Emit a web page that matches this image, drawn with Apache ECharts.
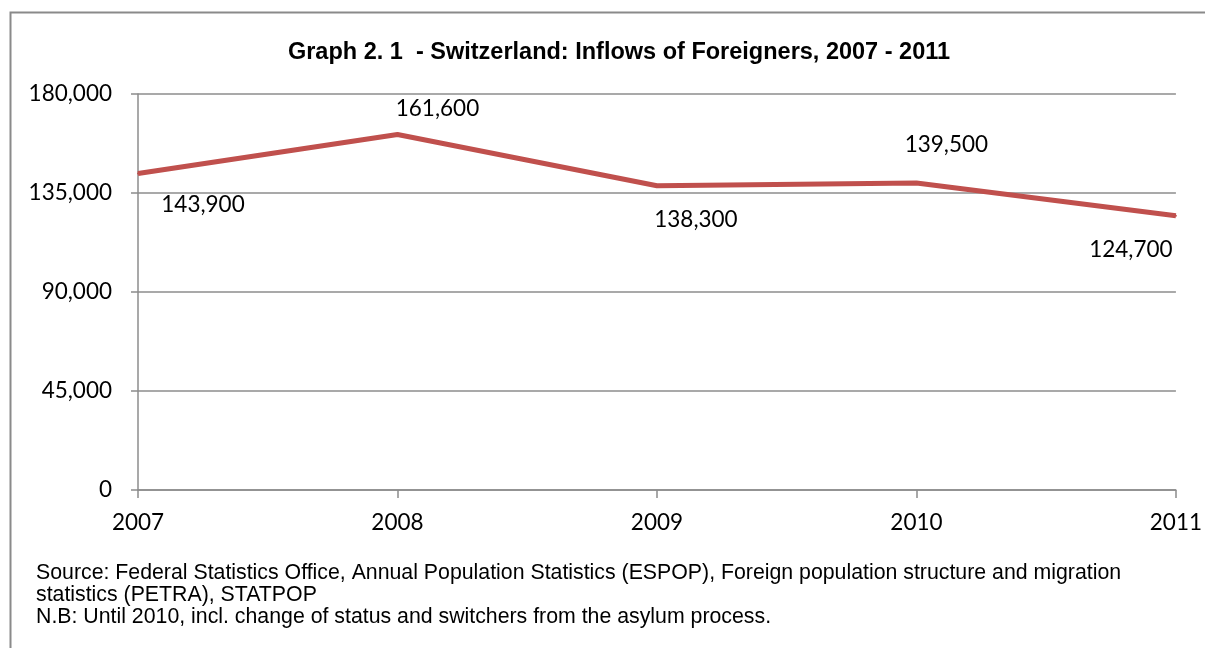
<!DOCTYPE html>
<html>
<head>
<meta charset="utf-8">
<script src="https://cdn.jsdelivr.net/npm/echarts@6/dist/echarts.min.js"></script>
<style>
  html, body { margin: 0; padding: 0; background: #fff; }
  #chart { width: 1205px; height: 648px; }
</style>
</head>
<body>
<div id="chart"></div>
<script>
// Inflows of foreigners into Switzerland by year
const years = ['2007', '2008', '2009', '2010', '2011'];
const inflows = [143900, 161600, 138300, 139500, 124700];
// Value-label placement per point (offset from point, in px)
const labelOffsets = [[65, 31], [40, -26], [39, 34], [30, -38], [-45, 34]];

const titleText = 'Graph 2. 1  - Switzerland: Inflows of Foreigners, 2007 - 2011';
const noteLines = [
  'Source: Federal Statistics Office, Annual Population Statistics (ESPOP), Foreign population structure and migration',
  'statistics (PETRA), STATPOP',
  'N.B: Until 2010, incl. change of status and switchers from the asylum process.'
];

const fmt = v => Number(v).toLocaleString('en-US');
const axisGray = '#8c8c8c';
const tickFont = 'Lato, "Open Sans", sans-serif';
const tickSize = 22.5;

const chart = echarts.init(document.getElementById('chart'), null, { renderer: 'canvas' });

chart.setOption({
  animation: false,
  backgroundColor: '#ffffff',
  title: {
    text: titleText,
    left: 614,
    textAlign: 'center',
    top: 36,
    textStyle: {
      fontFamily: '"Liberation Sans", Arial, sans-serif',
      fontWeight: 'bold',
      fontSize: 23.5,
      color: '#000'
    }
  },
  graphic: [
    {
      type: 'polyline',
      shape: { points: [[10.5, 700], [10.5, 12.5], [1300, 12.5]] },
      style: { stroke: '#8a8a8a', lineWidth: 2, fill: null }
    },
    {
      type: 'text',
      left: 36,
      top: 562,
      style: {
        text: noteLines.join('\n'),
        font: '21.3px "Liberation Sans", Arial, sans-serif',
        lineHeight: 22,
        fill: '#000'
      }
    }
  ],
  grid: { left: 138, right: 27, top: 94, bottom: 158, containLabel: false },
  xAxis: {
    type: 'category',
    data: years,
    boundaryGap: false,
    axisLine: { lineStyle: { color: axisGray, width: 1.5 } },
    axisTick: { show: true, length: 8, lineStyle: { color: axisGray, width: 1.5 } },
    axisLabel: {
      margin: 21,
      fontFamily: tickFont,
      fontSize: tickSize,
      color: '#000'
    },
    splitLine: { show: false }
  },
  yAxis: {
    type: 'value',
    min: 0,
    max: 180000,
    interval: 45000,
    axisLine: { show: true, lineStyle: { color: axisGray, width: 1.5 } },
    axisTick: { show: true, length: 7, lineStyle: { color: axisGray, width: 1.5 } },
    axisLabel: {
      margin: 26,
      fontFamily: tickFont,
      fontSize: tickSize,
      color: '#000',
      formatter: v => fmt(v)
    },
    splitLine: { show: true, lineStyle: { color: axisGray, width: 1.5 } }
  },
  series: [{
    type: 'line',
    data: inflows.map((v, i) => ({
      value: v,
      label: { offset: labelOffsets[i] }
    })),
    symbol: 'circle',
    symbolSize: 2,
    showSymbol: true,
    lineStyle: { color: '#C0504D', width: 5 },
    itemStyle: { color: '#C0504D' },
    label: {
      show: true,
      position: 'inside',
      fontFamily: tickFont,
      fontSize: tickSize,
      color: '#000',
      formatter: p => fmt(p.value)
    }
  }]
});
</script>
</body>
</html>
